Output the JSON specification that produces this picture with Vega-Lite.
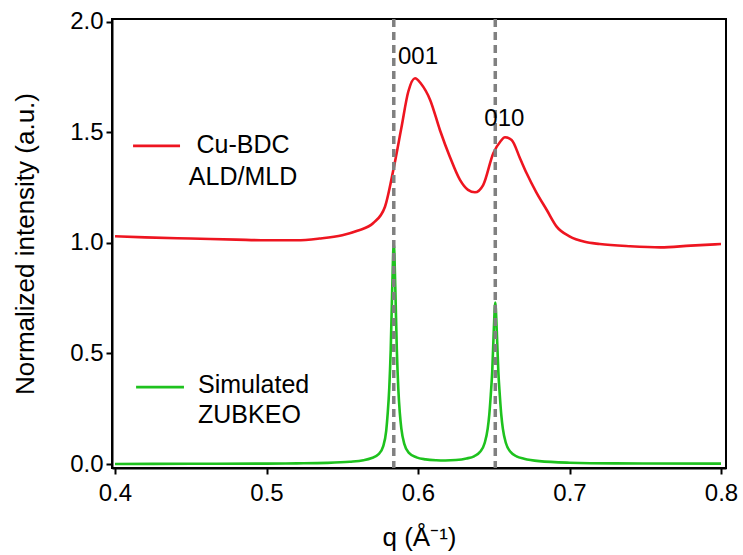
{
  "$schema": "https://vega.github.io/schema/vega-lite/v6.json",
  "width": 614,
  "height": 449,
  "autosize": {"type": "none"},
  "padding": {"left": 112, "top": 19, "right": 17, "bottom": 87},
  "background": "white",
  "config": {
    "view": {"stroke": "black", "strokeWidth": 2},
    "font": "Liberation Sans",
    "axis": {
      "labelFont": "Liberation Sans",
      "titleFont": "Liberation Sans",
      "labelFontSize": 24,
      "titleFontSize": 26,
      "titleFontWeight": "normal",
      "labelColor": "black",
      "titleColor": "black",
      "domainColor": "black",
      "domainWidth": 2,
      "tickColor": "black",
      "tickWidth": 2,
      "tickSize": 6,
      "grid": false
    }
  },
  "datasets": {
    "curves": [
      {"q": 0.400, "v": 1.030, "s": "Cu-BDC"},
      {"q": 0.420, "v": 1.025, "s": "Cu-BDC"},
      {"q": 0.450, "v": 1.020, "s": "Cu-BDC"},
      {"q": 0.480, "v": 1.015, "s": "Cu-BDC"},
      {"q": 0.500, "v": 1.012, "s": "Cu-BDC"},
      {"q": 0.520, "v": 1.012, "s": "Cu-BDC"},
      {"q": 0.535, "v": 1.020, "s": "Cu-BDC"},
      {"q": 0.550, "v": 1.035, "s": "Cu-BDC"},
      {"q": 0.560, "v": 1.055, "s": "Cu-BDC"},
      {"q": 0.5705, "v": 1.090, "s": "Cu-BDC"},
      {"q": 0.5782, "v": 1.164, "s": "Cu-BDC"},
      {"q": 0.5837, "v": 1.330, "s": "Cu-BDC"},
      {"q": 0.5890, "v": 1.520, "s": "Cu-BDC"},
      {"q": 0.5936, "v": 1.685, "s": "Cu-BDC"},
      {"q": 0.5980, "v": 1.745, "s": "Cu-BDC"},
      {"q": 0.6020, "v": 1.720, "s": "Cu-BDC"},
      {"q": 0.6080, "v": 1.647, "s": "Cu-BDC"},
      {"q": 0.6145, "v": 1.510, "s": "Cu-BDC"},
      {"q": 0.6210, "v": 1.390, "s": "Cu-BDC"},
      {"q": 0.6277, "v": 1.285, "s": "Cu-BDC"},
      {"q": 0.6330, "v": 1.240, "s": "Cu-BDC"},
      {"q": 0.6376, "v": 1.229, "s": "Cu-BDC"},
      {"q": 0.6430, "v": 1.262, "s": "Cu-BDC"},
      {"q": 0.6497, "v": 1.406, "s": "Cu-BDC"},
      {"q": 0.6545, "v": 1.460, "s": "Cu-BDC"},
      {"q": 0.6574, "v": 1.478, "s": "Cu-BDC"},
      {"q": 0.6618, "v": 1.466, "s": "Cu-BDC"},
      {"q": 0.6673, "v": 1.383, "s": "Cu-BDC"},
      {"q": 0.6717, "v": 1.315, "s": "Cu-BDC"},
      {"q": 0.6780, "v": 1.230, "s": "Cu-BDC"},
      {"q": 0.6850, "v": 1.149, "s": "Cu-BDC"},
      {"q": 0.6915, "v": 1.074, "s": "Cu-BDC"},
      {"q": 0.7000, "v": 1.030, "s": "Cu-BDC"},
      {"q": 0.7100, "v": 1.005, "s": "Cu-BDC"},
      {"q": 0.7200, "v": 0.995, "s": "Cu-BDC"},
      {"q": 0.7400, "v": 0.985, "s": "Cu-BDC"},
      {"q": 0.7600, "v": 0.980, "s": "Cu-BDC"},
      {"q": 0.7800, "v": 0.988, "s": "Cu-BDC"},
      {"q": 0.8000, "v": 0.995, "s": "Cu-BDC"},
      {"q": 0.400, "v": 0.000, "s": "Simulated"},
      {"q": 0.450, "v": 0.001, "s": "Simulated"},
      {"q": 0.500, "v": 0.002, "s": "Simulated"},
      {"q": 0.520, "v": 0.003, "s": "Simulated"},
      {"q": 0.540, "v": 0.005, "s": "Simulated"},
      {"q": 0.555, "v": 0.010, "s": "Simulated"},
      {"q": 0.564, "v": 0.017, "s": "Simulated"},
      {"q": 0.569, "v": 0.026, "s": "Simulated"},
      {"q": 0.574, "v": 0.045, "s": "Simulated"},
      {"q": 0.577, "v": 0.080, "s": "Simulated"},
      {"q": 0.579, "v": 0.150, "s": "Simulated"},
      {"q": 0.580, "v": 0.230, "s": "Simulated"},
      {"q": 0.581, "v": 0.340, "s": "Simulated"},
      {"q": 0.582, "v": 0.520, "s": "Simulated"},
      {"q": 0.583, "v": 0.800, "s": "Simulated"},
      {"q": 0.584, "v": 1.000, "s": "Simulated"},
      {"q": 0.585, "v": 0.800, "s": "Simulated"},
      {"q": 0.586, "v": 0.520, "s": "Simulated"},
      {"q": 0.587, "v": 0.340, "s": "Simulated"},
      {"q": 0.588, "v": 0.230, "s": "Simulated"},
      {"q": 0.589, "v": 0.160, "s": "Simulated"},
      {"q": 0.591, "v": 0.090, "s": "Simulated"},
      {"q": 0.594, "v": 0.050, "s": "Simulated"},
      {"q": 0.599, "v": 0.030, "s": "Simulated"},
      {"q": 0.605, "v": 0.021, "s": "Simulated"},
      {"q": 0.612, "v": 0.017, "s": "Simulated"},
      {"q": 0.618, "v": 0.016, "s": "Simulated"},
      {"q": 0.625, "v": 0.018, "s": "Simulated"},
      {"q": 0.632, "v": 0.025, "s": "Simulated"},
      {"q": 0.637, "v": 0.035, "s": "Simulated"},
      {"q": 0.641, "v": 0.055, "s": "Simulated"},
      {"q": 0.644, "v": 0.095, "s": "Simulated"},
      {"q": 0.646, "v": 0.160, "s": "Simulated"},
      {"q": 0.647, "v": 0.220, "s": "Simulated"},
      {"q": 0.648, "v": 0.310, "s": "Simulated"},
      {"q": 0.649, "v": 0.420, "s": "Simulated"},
      {"q": 0.650, "v": 0.600, "s": "Simulated"},
      {"q": 0.651, "v": 0.730, "s": "Simulated"},
      {"q": 0.652, "v": 0.600, "s": "Simulated"},
      {"q": 0.653, "v": 0.420, "s": "Simulated"},
      {"q": 0.654, "v": 0.310, "s": "Simulated"},
      {"q": 0.655, "v": 0.220, "s": "Simulated"},
      {"q": 0.656, "v": 0.160, "s": "Simulated"},
      {"q": 0.658, "v": 0.095, "s": "Simulated"},
      {"q": 0.661, "v": 0.055, "s": "Simulated"},
      {"q": 0.665, "v": 0.035, "s": "Simulated"},
      {"q": 0.670, "v": 0.024, "s": "Simulated"},
      {"q": 0.680, "v": 0.013, "s": "Simulated"},
      {"q": 0.700, "v": 0.006, "s": "Simulated"},
      {"q": 0.730, "v": 0.003, "s": "Simulated"},
      {"q": 0.800, "v": 0.002, "s": "Simulated"}
    ],
    "legend": [
      {"s": "Cu-BDC", "q": 0.4119, "q2": 0.4429, "v": 1.439, "tq": 0.4845, "tv": 1.407, "label": "Cu-BDC\nALD/MLD"},
      {"s": "Simulated", "q": 0.4139, "q2": 0.4455, "v": 0.348, "tq": 0.4548, "tv": 0.321, "label": "Simulated\nZUBKEO"}
    ],
    "peaks": [
      {"q": 0.584, "lq": 0.600, "lv": 1.842, "label": "001"},
      {"q": 0.651, "lq": 0.657, "lv": 1.5625, "label": "010"}
    ]
  },
  "layer": [
    {
      "data": {"name": "curves"},
      "mark": {"type": "line", "strokeWidth": 2.6, "interpolate": "monotone"},
      "encoding": {
        "x": {
          "field": "q", "type": "quantitative",
          "scale": {"domain": [0.398, 0.8033], "nice": false, "zero": false},
          "axis": {"values": [0.4, 0.5, 0.6, 0.7, 0.8], "format": ".1f", "title": "q (Å⁻¹)", "labelPadding": 7, "titlePadding": 19}
        },
        "y": {
          "field": "v", "type": "quantitative",
          "scale": {"domain": [-0.018, 2.013], "nice": false, "zero": false},
          "axis": {"values": [0, 0.5, 1, 1.5, 2], "format": ".1f", "title": "Normalized intensity (a.u.)", "labelPadding": 3, "titlePadding": 31}
        },
        "color": {"field": "s", "type": "nominal", "scale": {"domain": ["Cu-BDC", "Simulated"], "range": ["#ee1520", "#1ec21e"]}, "legend": null},
        "detail": {"field": "s"}
      }
    },
    {
      "data": {"name": "legend"},
      "mark": {"type": "rule", "strokeWidth": 2.6},
      "encoding": {
        "x": {"field": "q", "type": "quantitative"},
        "x2": {"field": "q2"},
        "y": {"field": "v", "type": "quantitative"},
        "color": {"field": "s", "type": "nominal", "legend": null}
      }
    },
    {
      "data": {"name": "legend"},
      "transform": [{"filter": "datum.s === 'Cu-BDC'"}],
      "mark": {"type": "text", "fontSize": 25, "align": "center", "baseline": "alphabetic", "lineBreak": "\n", "lineHeight": 32, "color": "black"},
      "encoding": {
        "x": {"field": "tq", "type": "quantitative"},
        "y": {"field": "tv", "type": "quantitative"},
        "text": {"field": "label"}
      }
    },
    {
      "data": {"name": "legend"},
      "transform": [{"filter": "datum.s === 'Simulated'"}],
      "mark": {"type": "text", "fontSize": 25, "align": "left", "baseline": "alphabetic", "lineBreak": "\n", "lineHeight": 30, "color": "black"},
      "encoding": {
        "x": {"field": "tq", "type": "quantitative"},
        "y": {"field": "tv", "type": "quantitative"},
        "text": {"field": "label"}
      }
    },
    {
      "data": {"name": "peaks"},
      "mark": {"type": "rule", "color": "#808080", "strokeWidth": 3.5, "strokeDash": [8, 5]},
      "encoding": {
        "x": {"field": "q", "type": "quantitative"}
      }
    },
    {
      "data": {"name": "peaks"},
      "mark": {"type": "text", "fontSize": 24, "align": "center", "baseline": "middle", "color": "black"},
      "encoding": {
        "x": {"field": "lq", "type": "quantitative"},
        "y": {"field": "lv", "type": "quantitative"},
        "text": {"field": "label"}
      }
    }
  ]
}
